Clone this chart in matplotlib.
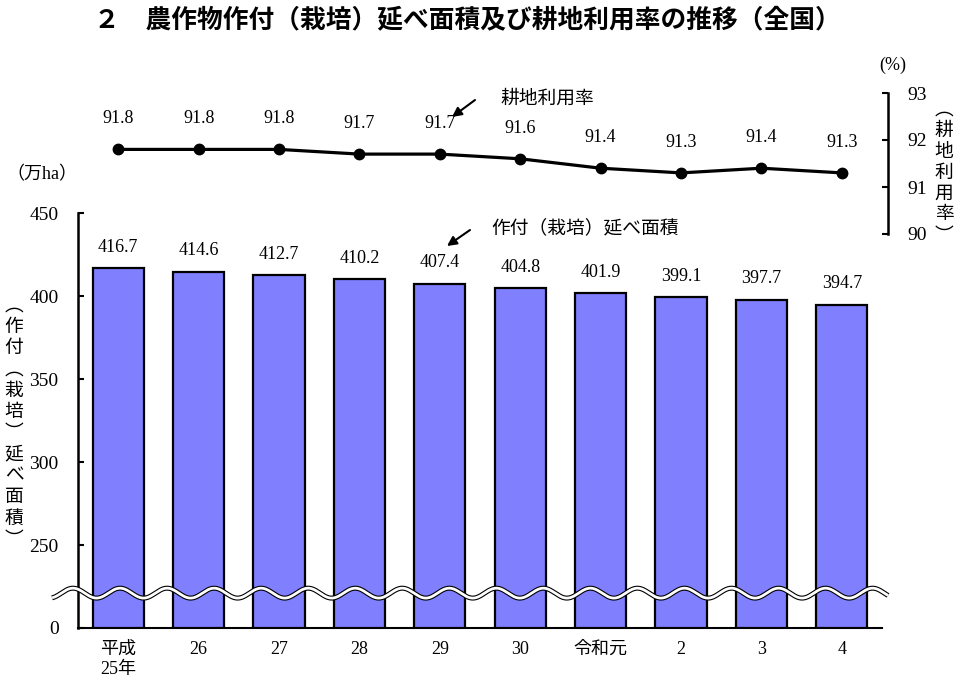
import numpy as np
import matplotlib
matplotlib.use('Agg')
from matplotlib import pyplot as plt

plt.rcParams['font.family'] = ['Liberation Serif', 'Noto Sans CJK JP', 'DejaVu Sans']

# data
years = ['平成\n25年', '26', '27', '28', '29', '30', '令和元', '2', '3', '4']
area = [416.7, 414.6, 412.7, 410.2, 407.4, 404.8, 401.9, 399.1, 397.7, 394.7]
rate = [91.8, 91.8, 91.8, 91.7, 91.7, 91.6, 91.4, 91.3, 91.4, 91.3]
area_ticks = [0, 250, 300, 350, 400, 450]

# broken axis: 0 -> 0, 250.. -> value - 200
def brk(v):
    return np.where(np.asarray(v) >= 250, np.asarray(v) - 200, np.asarray(v) / 5)

gothic = ['Noto Sans CJK JP', 'DejaVu Sans']

fig = plt.figure(figsize=(9.6, 6.86), dpi=100)
W, H = 960, 686
ax = fig.add_axes([78 / W, 1 - 628 / H, 804 / W, 415 / H])
ax2 = fig.add_axes([78 / W, 1 - 234 / H, 804 / W, 141 / H])

x = np.arange(len(years))

#bars
ax.bar(x, brk(area), width=0.635, color='#8080ff', edgecolor='black', linewidth=1.6, zorder=3)
for xi, v in zip(x, area):
    ax.annotate(f'{v:.1f}', (xi, brk(v)), xytext=(0, 15), textcoords='offset points',
                ha='center', va='center', fontsize=13)
ax.set_xlim(-0.5, 9.5)
ax.set_ylim(0, 250)
ax.set_yticks(brk(area_ticks))
ax.set_yticklabels([str(t) for t in area_ticks], fontsize=14)
ax.set_xticks(x)
ax.set_xticklabels(years, fontsize=13, linespacing=1.3)
ax.tick_params(axis='y', direction='in', length=4, width=1.5, pad=14)
ax.tick_params(axis='x', length=0, pad=9)
for s in ['top', 'right']:
    ax.spines[s].set_visible(False)
ax.spines['left'].set_linewidth(1.8)
ax.spines['bottom'].set_linewidth(1.5)

# wavy break mark
wx = np.linspace(-0.823, 9.575, 800)
wy = 21 + 3 * np.cos(2 * np.pi * (wx + 0.562) / 0.585)
ax.plot(wx, wy, color='black', lw=3.6, clip_on=False, zorder=6, solid_capstyle='butt')
ax.plot(wx, wy, color='white', lw=2.0, clip_on=False, zorder=7, solid_capstyle='butt')

#line
ax2.plot(x, rate, color='black', lw=2.3, marker='o', markersize=7.5, zorder=3)
for xi, v in zip(x, rate):
    ax2.annotate(f'{v:.1f}', (xi, v), xytext=(0, 22), textcoords='offset points',
                 ha='center', va='center', fontsize=13)
ax2.set_xlim(-0.5, 9.5)
ax2.set_ylim(90, 93)
ax2.set_yticks([90, 91, 92, 93])
ax2.yaxis.tick_right()
ax2.tick_params(axis='y', direction='in', length=4, width=1.5, pad=14, labelsize=14)
ax2.set_xticks([])
ax2.patch.set_visible(False)
for s in ['top', 'left', 'bottom']:
    ax2.spines[s].set_visible(False)
ax2.spines['right'].set_position(('outward', 4))
ax2.spines['right'].set_linewidth(1.8)

# texts
fig.text(467 / W, 1 - 20 / H, '２　農作物作付（栽培）延べ面積及び耕地利用率の推移（全国）',
         ha='center', va='center', fontsize=18.5, fontweight='bold', family=gothic)
fig.text(42 / W, 1 - 175 / H, '（万ha）', ha='center', va='center', fontsize=13)
fig.text(893 / W, 1 - 65 / H, '(%)', ha='center', va='center', fontsize=13)
fig.text(14 / W, 1 - 422 / H, '\n'.join('︵作付︵栽培︶延べ面積︶'), ha='center', va='center',
         fontsize=13.5, linespacing=1.02, family=gothic)
fig.text(944 / W, 1 - 172 / H, '\n'.join('︵耕地利用率︶'), ha='center', va='center',
         fontsize=13.5, linespacing=1.0, family=gothic)

fig.text(547 / W, 1 - 98 / H, '耕地利用率', ha='center', va='center', fontsize=13.5, family=gothic)
fig.text(585 / W, 1 - 228 / H, '作付（栽培）延べ面積', ha='center', va='center', fontsize=13.5, family=gothic)
arrow = dict(arrowstyle='-|>', color='black', lw=1.5, mutation_scale=14, shrinkA=0, shrinkB=0)
fig.add_artist(plt.Annotation('', xy=(452 / W, 1 - 117 / H), xytext=(475 / W, 1 - 100 / H),
                              xycoords='figure fraction', arrowprops=arrow))
fig.add_artist(plt.Annotation('', xy=(447 / W, 1 - 246 / H), xytext=(470 / W, 1 - 230 / H),
                              xycoords='figure fraction', arrowprops=arrow))

plt.savefig('out.png', dpi=100)
